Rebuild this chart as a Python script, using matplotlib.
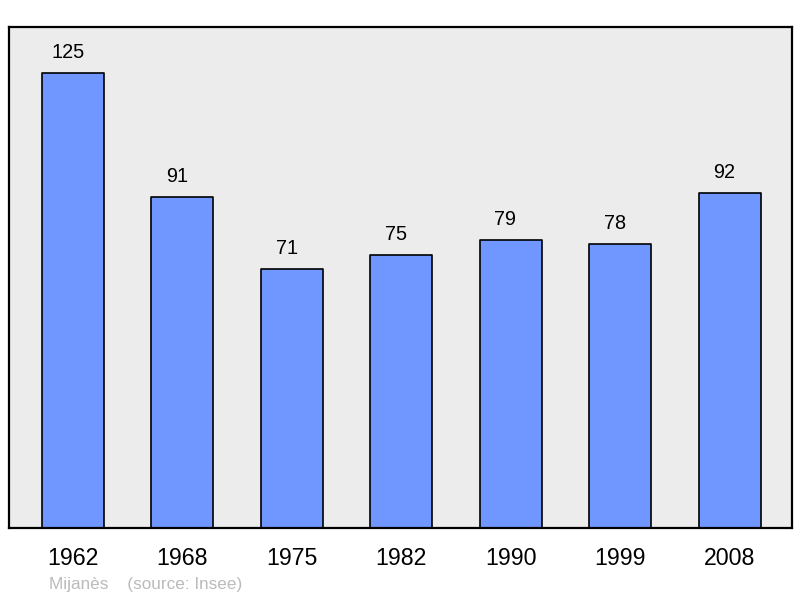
import matplotlib.pyplot as plt

years = ["1962", "1968", "1975", "1982", "1990", "1999", "2008"]
population = [125, 91, 71, 75, 79, 78, 92]

plt.rcParams['font.family'] = ['Liberation Sans', 'DejaVu Sans']

fig = plt.figure(figsize=(8, 5.98), dpi=100)
ax = fig.add_axes([9 / 800, 1 - 528 / 598, 783 / 800, 501 / 598])
ax.set_facecolor('#ececec')

x = list(range(len(years)))
bars = ax.bar(x, population, width=0.567, color='#7097ff', edgecolor='black',
              linewidth=1.2, zorder=2)
for b in bars:
    b.set_joinstyle('round')

for xi, v in zip(x, population):
    ax.annotate(str(v), (xi, v), xytext=(-3.8, 14.8), textcoords='offset points',
                ha='center', va='center', fontsize=14.3)

ax.set_xlim(-0.585, 6.571)
ax.set_ylim(0, 137.6)
ax.set_yticks([])
ax.set_xticks(x)
ax.set_xticklabels(years, fontsize=16.7)
ax.tick_params(axis='x', length=0, pad=13.5)
for s in ax.spines.values():
    s.set_linewidth(1.6)
    s.set_joinstyle('round')

fig.text(49 / 800, 1 - 584 / 598, "Mijanès    (source: Insee)", color='#bbbbbb',
         fontsize=12.3, va='center', ha='left')

fig.savefig('out.png', dpi=100)
